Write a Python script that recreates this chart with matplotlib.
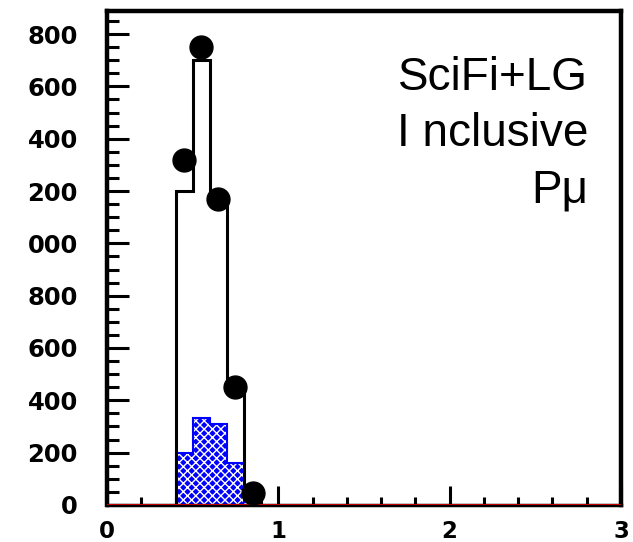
import matplotlib
matplotlib.use("Agg")
import matplotlib.pyplot as plt
from matplotlib.ticker import MultipleLocator, FixedLocator

# histogram bin edges (width 0.1)
edges = [0.4, 0.5, 0.6, 0.7, 0.8, 0.9]
# black outline histogram
total_counts = [1200, 1700, 1170, 450, 30]
# blue hatched histogram
sub_counts = [200, 332, 310, 160, 12]
# data points (bin centres)
pt_x = [0.45, 0.55, 0.65, 0.75, 0.85]
pt_y = [1320, 1750, 1170, 450, 46]

# y tick labels as they appear in the picture (leading digit cut off)
ytick_vals = [0, 200, 400, 600, 800, 1000, 1200, 1400, 1600, 1800]
ytick_text = ["0", "200", "400", "600", "800", "000", "200", "400", "600", "800"]
xtick_vals = [0, 1, 2, 3]

fig = plt.figure(figsize=(6.33, 5.42), dpi=100)
ax = fig.add_axes([0.169, 0.0683, 0.812, 0.9114])

# blue hatched fill
ax.stairs(sub_counts, edges, fill=True, facecolor="#0000ff", edgecolor="white",
          hatch="xxxx", linewidth=0, zorder=2)
ax.stairs(sub_counts, edges, color="#0000ff", linewidth=1.5, zorder=2.5)

# black outline
ax.stairs(total_counts, edges, color="black", linewidth=2.2, baseline=0, zorder=3)

# red zero line
ax.axhline(0, color="red", linewidth=1.8, zorder=4)

# data points
ax.plot(pt_x, pt_y, "o", color="black", markersize=16.5, zorder=5)

ax.set_xlim(0, 3)
ax.set_ylim(0, 1888)

ax.xaxis.set_major_locator(FixedLocator(xtick_vals))
ax.xaxis.set_minor_locator(MultipleLocator(0.2))
ax.yaxis.set_major_locator(FixedLocator(ytick_vals))
ax.yaxis.set_minor_locator(MultipleLocator(50))
ax.set_yticklabels(ytick_text)
ax.set_xticklabels([str(v) for v in xtick_vals])

ax.tick_params(axis="y", which="major", direction="in", length=16, width=2.2,
               pad=21, labelsize=17.5)
ax.tick_params(axis="y", which="minor", direction="in", length=8.5, width=2.2)
ax.tick_params(axis="x", which="major", direction="in", length=14, width=2.2,
               pad=11, labelsize=16.5)
ax.tick_params(axis="x", which="minor", direction="in", length=6, width=2.2)
for lab in ax.get_xticklabels() + ax.get_yticklabels():
    lab.set_fontweight("bold")

for side in ["left", "top", "right", "bottom"]:
    ax.spines[side].set_linewidth(3.2)
ax.spines["bottom"].set_linewidth(2.5)

ax.text(0.936, 0.613, "SciFi+LG\nI nclusive\nPμ", transform=ax.transAxes,
        ha="right", va="baseline", multialignment="right",
        fontsize=33, family="Liberation Sans", linespacing=1.35, zorder=6)

fig.savefig("out.png", dpi=100)
